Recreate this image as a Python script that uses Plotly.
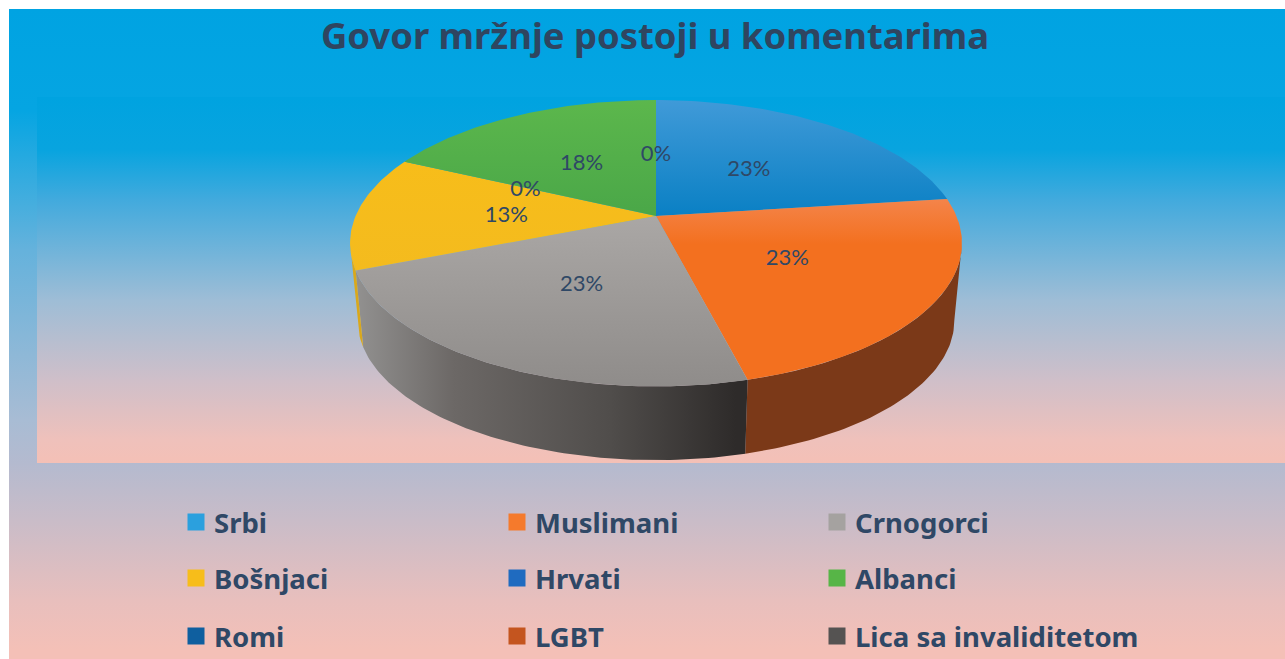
import math
import plotly.graph_objects as go

# --- data ---
categories = ["Srbi", "Muslimani", "Crnogorci", "Bošnjaci", "Hrvati", "Albanci", "Romi", "LGBT", "Lica sa invaliditetom"]
values = [23, 23, 23, 13, 0, 18, 0, 0, 0]
title_text = "Govor mržnje postoji u komentarima"

# --- style ---
TOP_GRAD = {
    "Srbi": ["#409ad8", "#0a80c4"], "Muslimani": ["#f4844a", "#f3701f"], "Crnogorci": ["#aaa7a5", "#8f8c8a"],
    "Bošnjaci": ["#f7bd1a", "#f4bb1e"], "Albanci": ["#5cb74c", "#4aa748"],
}
SIDE_COL = {"Srbi": "#0a5a8a", "Muslimani": "#7b3918", "Crnogorci": "#555", "Bošnjaci": "#d9a81c", "Albanci": "#2f6e2f"}
SWATCH = ["#2ba0de", "#f57a2c", "#a5a2a0", "#f7bd1a", "#1f6bc0", "#57b547", "#0f5f9f", "#c4551f", "#555352"]
TEXT = "#2f4866"

# projection of the pie disc in page pixels (perspective ellipse)
CX, CY, A, B, K = 656, 216, 300.4, 138, 0.19
DEPTH_Y, DEPTH_S = 78, 0.975
F_RIGHT = math.acos(-K) / (2 * math.pi)  # rim positions where the side becomes visible
F_LEFT = 1 - F_RIGHT


def proj(frac, r=1.0, dy=0.0, s=1.0):
    th = 2 * math.pi * frac
    u, v = r * math.sin(th), r * math.cos(th)
    d = 1 + K * v
    return CX + s * A * u / d, CY + dy - s * B * v / d


def arc(f0, f1, **kw):
    n = max(2, int(abs(f1 - f0) * 360))
    return [proj(f0 + (f1 - f0) * i / n, **kw) for i in range(n + 1)]


fig = go.Figure()


def panel(x0, y0, x1, y1, stops):
    lo, hi = stops[0][0], stops[-1][0]
    fig.add_trace(go.Scatter(
        x=[x0, x1, x1, x0, x0], y=[y0, y0, y1, y1, y0], mode="lines", line=dict(width=0), fill="toself",
        fillgradient=dict(type="vertical", start=lo, stop=hi,
                          colorscale=[[(p - lo) / (hi - lo), c] for p, c in stops]),
        hoverinfo="skip", showlegend=False))


panel(9, 9, 1285, 659, [(9, "#00a3e2"), (110, "#05a5e2"), (250, "#65b2dc"), (420, "#a8bcd4"), (463, "#b4bacf"),
                        (520, "#c9bcc8"), (600, "#e8bfbd"), (650, "#f4c0b7"), (659, "#f4c0b7")])
panel(37, 97, 1285, 463, [(97, "#00a3e0"), (150, "#08a4df"), (200, "#42aadd"), (300, "#9ebdd6"), (380, "#cfbfc9"),
                          (440, "#efc1bb"), (463, "#f4c0b6")])

# slices
total = sum(values)
fracs, acc = [], 0
for v in values:
    fracs.append((acc / total, (acc + v) / total))
    acc += v

# visible front sides
for i, (f0, f1) in enumerate(fracs):
    a, b = max(f0, F_RIGHT), min(f1, F_LEFT)
    if values[i] == 0 or a >= b:
        continue
    pts = arc(a, b) + arc(b, a, dy=DEPTH_Y, s=DEPTH_S)
    pts.append(pts[0])
    kw = dict(fillcolor=SIDE_COL[categories[i]])
    if categories[i] == "Crnogorci":
        kw = dict(fillgradient=dict(type="horizontal", colorscale=[[0, "#929190"], [0.25, "#6c6866"], [0.65, "#504d4b"], [0.97, "#2e2b2a"], [1, "#2e2b2a"]]))
    fig.add_trace(go.Scatter(x=[p[0] for p in pts], y=[p[1] for p in pts], mode="lines", line=dict(width=0),
                             fill="toself", hoverinfo="skip", showlegend=False, **kw))

# top faces (y axis is reversed, so the first colour is at the bottom of the page)
for i, (f0, f1) in enumerate(fracs):
    if values[i] == 0:
        continue
    pts = [(CX, CY)] + arc(f0, f1) + [(CX, CY)]
    c0, c1 = TOP_GRAD[categories[i]]
    scale = [[0, c1], [1, c0]]
    if categories[i] == "Muslimani":
        scale = [[0, c1], [0.75, c1], [1, c0]]
    fig.add_trace(go.Scatter(x=[p[0] for p in pts], y=[p[1] for p in pts], mode="lines", line=dict(width=0),
                             fill="toself", fillgradient=dict(type="vertical", colorscale=scale),
                             name=categories[i], text=f"{categories[i]}: {values[i]}%", hoverinfo="text", showlegend=False))

# percent labels at half radius of each slice (coincident zero labels drawn once)
seen, lx, ly, lt = set(), [], [], []
for i, (f0, f1) in enumerate(fracs):
    key = round((f0 + f1) / 2 % 1, 4)
    if key in seen:
        continue
    seen.add(key)
    x, y = proj((f0 + f1) / 2, r=0.5, dy=2.5)
    lx.append(x); ly.append(y); lt.append(f"{values[i]}%")
fig.add_trace(go.Scatter(x=lx, y=ly, text=lt, mode="text", textposition="middle center",
                         textfont=dict(family="Lato", size=22, color=TEXT), hoverinfo="skip", showlegend=False))

# legend grid
LEG_X, LEG_Y = [196, 517, 837], [522, 578, 636]
for i, cat in enumerate(categories):
    r, c = divmod(i, 3)
    fig.add_trace(go.Scatter(
        x=[LEG_X[c]], y=[LEG_Y[r]], mode="markers", name=cat,
        marker=dict(symbol="square", size=17, color=SWATCH[i], line=dict(width=0)), hoverinfo="name", showlegend=False))
    fig.add_annotation(x=LEG_X[c] + 16, y=LEG_Y[r], text=f"<b>{cat}</b>", showarrow=False, xanchor="left", yanchor="middle",
                       font=dict(family="Noto Sans", size=27.5, color=TEXT))

fig.add_annotation(x=655, y=35, text=f"<b>{title_text}</b>", showarrow=False, xanchor="center", yanchor="middle",
                   font=dict(family="Noto Sans", size=36.4, color="#2f4560"))

fig.update_layout(
    width=1285, height=659, margin=dict(l=0, r=0, t=0, b=0), paper_bgcolor="#ffffff", plot_bgcolor="#ffffff",
    xaxis=dict(range=[0, 1285], visible=False, fixedrange=True),
    yaxis=dict(range=[659, 0], visible=False, fixedrange=True),
    showlegend=False,
)
fig.write_html("out.html", post_script="document.body.style.margin='0';document.body.style.overflow='hidden';",
               config={"displayModeBar": False})
